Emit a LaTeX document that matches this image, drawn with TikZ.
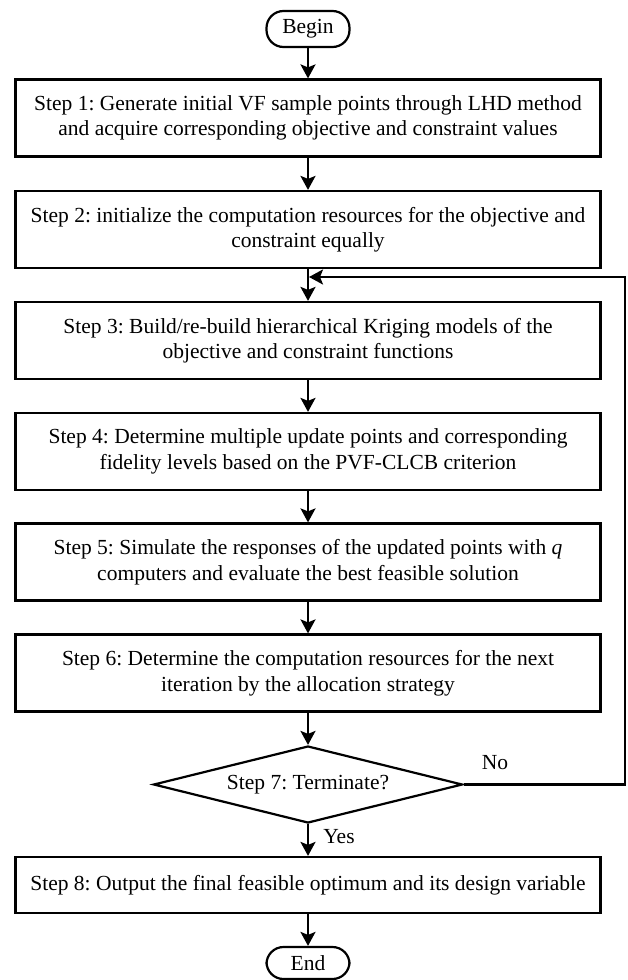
\documentclass[tikz,border=0pt]{standalone}
\usepackage{fontspec}
\setmainfont{Liberation Serif}
\usetikzlibrary{shapes.geometric}
\usetikzlibrary{arrows.meta}
\frenchspacing

\begin{document}
\begin{tikzpicture}[x=1pt, y=1pt, line width=2.2pt,
  >={Stealth[length=14pt, width=15pt, inset=3pt]},
  font=\fontsize{21.5}{25.5}\selectfont]

\useasboundingbox (0,0) rectangle (627,-980);

\begin{scope}[rectangle, rounded corners=17pt, minimum height=36pt, minimum width=83pt]
  \node[draw] (begin) at (308,-29)  {Begin};
  \node[draw, minimum height=32pt] (end) at (308,-963) {End};
\end{scope}

\begin{scope}[rectangle, minimum height=77pt, minimum width=585pt, align=center]
  \node[draw] (step_1) at (308,-118)   {Step 1: Generate initial VF sample points through LHD method\\and acquire corresponding objective and constraint values};
  \node[draw] (step_2) at (308,-229.5) {Step 2: initialize the computation resources for the objective and\\constraint equally};
  \node[draw] (step_3) at (308,-340.5) {Step 3: Build/re-build hierarchical Kriging models of the\\objective and constraint functions};
  \node[draw] (step_4) at (308,-451.5) {Step 4: Determine multiple update points and corresponding\\fidelity levels based on the PVF-CLCB criterion};
  \node[draw] (step_5) at (308,-562)   {Step 5: Simulate the responses of the updated points with \textit{q}\\computers and evaluate the best feasible solution};
  \node[draw] (step_6) at (308,-673)   {Step 6: Determine the computation resources for the next\\iteration by the allocation strategy};
  \node[draw, minimum height=56pt] (step_8) at (308,-885) {Step 8: Output the final feasible optimum and its design variable};
\end{scope}

\node[draw, diamond, aspect=4, inner sep=0pt, minimum width=309pt, minimum height=77pt] (step_7) at (308,-784.5) {Step 7: Terminate?};

\node (no)  at (495,-763) {No};
\node (yes) at (339,-837) {Yes};

\begin{scope}
\path[->] (begin)  edge (step_1);
\path[->] (step_1) edge (step_2);
\path[->] (step_2) edge (step_3);
\path[->] (step_3) edge (step_4);
\path[->] (step_4) edge (step_5);
\path[->] (step_5) edge (step_6);
\path[->] (step_6) edge (step_7);
\path[->] (step_7) edge (step_8);
\path[->] (step_8) edge (end);
\end{scope}

\coordinate (loop_corner) at (625,-784.5);
\coordinate (loop_in)     at (309,-277);
\draw[->] (step_7.east) -- (loop_corner) |- (loop_in);

\end{tikzpicture}
\end{document}
